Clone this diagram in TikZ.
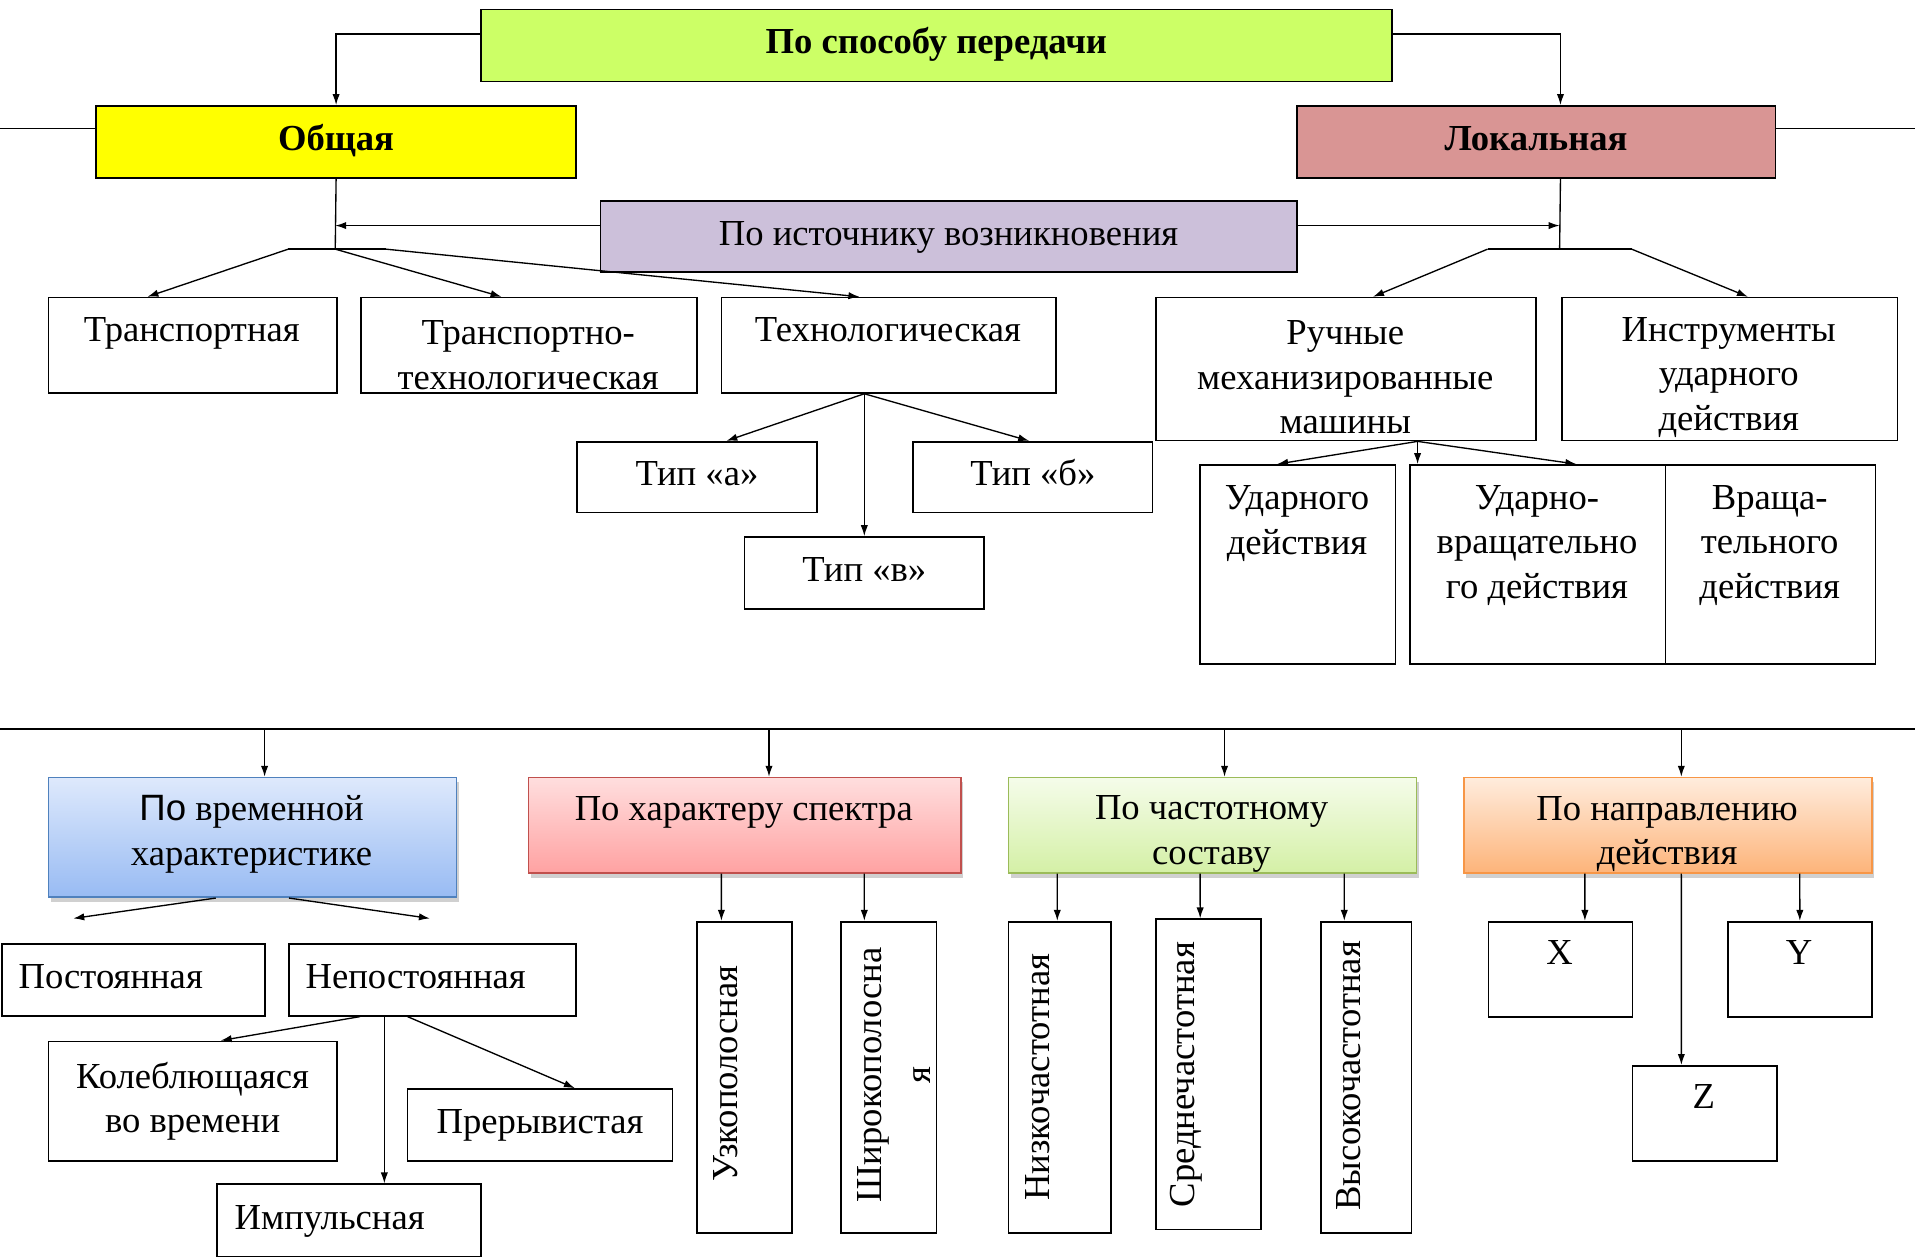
\documentclass[tikz,border=0pt]{standalone}
\usepackage{fontspec}
\setmainfont{Liberation Serif}
\newfontfamily\sansf{Liberation Sans}
\usetikzlibrary{arrows.meta,shadows}
\definecolor{cLime}{HTML}{CCFF66}
\definecolor{cYel}{HTML}{FFFF00}
\definecolor{cRose}{HTML}{D99594}
\definecolor{cLav}{HTML}{CCC0DA}
\definecolor{bTop}{HTML}{DEE9FC}
\definecolor{bBot}{HTML}{98BBF3}
\definecolor{bBrd}{HTML}{4F81BD}
\definecolor{rTop}{HTML}{FFDEDE}
\definecolor{rBot}{HTML}{FFA2A2}
\definecolor{rBrd}{HTML}{C0504D}
\definecolor{gTop}{HTML}{F5FCEA}
\definecolor{gBot}{HTML}{D4F0A6}
\definecolor{gBrd}{HTML}{9BBB59}
\definecolor{oTop}{HTML}{FFECDD}
\definecolor{oBot}{HTML}{FDB47A}
\definecolor{oBrd}{HTML}{F79646}
\tikzset{
  box/.style={draw, line width=1.4pt, inner sep=0pt, anchor=north west},
  cbox/.style={draw=#1, line width=1.3pt, inner sep=0pt, anchor=north west,
     drop shadow={shadow xshift=2pt, shadow yshift=-4pt, opacity=0.3, fill=black!60}},
  txt/.style={font=\fontsize{30}{36.5}\selectfont, inner sep=0pt, align=center},
  tt/.style={txt, yshift=-2.5pt},
  one/.style={text height=21pt, text depth=7pt},
  bold/.style={font=\fontsize{30}{36.5}\selectfont\bfseries},
  ln/.style={line width=1.1pt},
  arr/.style={line width=1.1pt, -{Latex[length=9pt,width=6pt]}}
}
\begin{document}
\begin{tikzpicture}[x=1pt,y=-1pt]
\fill[white] (0,0) rectangle (1568,1029);
\useasboundingbox (0,0) rectangle (1568,1029);

% ---------- top part ----------
\node[box, fill=cLime, minimum width=746pt, minimum height=59pt, bold, one] (sposob) at (393,7) {По способу передачи};
\node[box, fill=cYel, minimum width=393pt, minimum height=59pt, bold, one] (obsh) at (78,86) {Общая};
\node[box, fill=cRose, minimum width=392pt, minimum height=59pt, bold, one] (lok) at (1061,86) {Локальная};
\node[box, fill=cLav, minimum width=570pt, minimum height=58pt, txt, one] (ist) at (491,164) {По источнику возникновения};

\node[box, minimum width=236pt, minimum height=78pt] (transp) at (39,243) {};
\node[box, minimum width=275pt, minimum height=78pt] (ttech) at (295,243) {};
\node[box, minimum width=274pt, minimum height=78pt] (tech) at (590,243) {};
\node[box, minimum width=311pt, minimum height=117pt] (ruch) at (946,243) {};
\node[box, minimum width=275pt, minimum height=117pt] (instr) at (1278,243) {};

\node[tt, one] (transp-t) at (157,270) {Транспортная};
\node[tt] (ttech-t) at (432.5,288.5) {Транспортно-\\технологическая};
\node[tt, one] (tech-t) at (727,270) {Технологическая};
\node[tt] (ruch-t) at (1101.5,306.5) {Ручные\\механизированные\\машины};
\node[tt] (instr-t) at (1415.5,306.5) {Инструменты\\ударного\\действия};

\node[box, minimum width=196pt, minimum height=58pt, txt, one] (tipa) at (472,361) {Тип «а»};
\node[box, minimum width=196pt, minimum height=58pt, txt, one] (tipb) at (747,361) {Тип «б»};
\node[box, minimum width=196pt, minimum height=59pt, txt, one] (tipv) at (609,439) {Тип «в»};

\node[box, minimum width=160pt, minimum height=163pt] (udar) at (982,380) {};
\node[box, minimum width=209pt, minimum height=163pt] (udvr) at (1154,380) {};
\node[box, minimum width=172pt, minimum height=163pt] (vrash) at (1363,380) {};
\node[tt] (udar-t) at (1062,426) {Ударного\\действия};
\node[tt] (udvr-t) at (1258.5,444) {Ударно-\\вращательно\\го действия};
\node[tt] (vrash-t) at (1449,444) {Враща-\\тельного\\действия};

% top connectors
\draw[arr] ([yshift=9.5pt]sposob.west) -| (obsh.north);
\draw[arr] ([yshift=9.5pt]sposob.east) -| ([xshift=20pt]lok.north);
\coordinate (eL) at (0,105);
\coordinate (eR) at (1568,105);
\draw[ln] (eL) -- (eL -| obsh.west);
\draw[ln] (lok.east |- eR) -- (eR);

\coordinate (jL) at (274.5,204);
\coordinate (jLa) at (236,204);
\coordinate (jLb) at (316,204);
\coordinate (jR) at (1277,204);
\coordinate (jRa) at (1218,204);
\coordinate (jRb) at (1336,204);
\draw[ln] (obsh.south) -- (jL);
\draw[ln] (jLa) -- (jLb);
\draw[ln] ([xshift=20pt]lok.south) -- (jR);
\draw[ln] (jRa) -- (jRb);
\draw[arr] ([yshift=9pt]ist.west) -- ([yshift=9pt]ist.west -| jL);
\draw[arr] ([yshift=9pt]ist.east) -- ([yshift=9pt]ist.east -| jR);

\draw[arr] (jLa) -- ([xshift=-37pt]transp.north);
\draw[arr] (jL) -- ([xshift=-22.5pt]ttech.north);
\draw[arr] (jLb) -- ([xshift=-24pt]tech.north);
\draw[arr] (jRa) -- ([xshift=22pt]ruch.north);
\draw[arr] (jRb) -- ([xshift=15pt]instr.north);

\draw[arr] ([xshift=-20pt]tech.south) -- ([xshift=24pt]tipa.north);
\draw[arr] ([xshift=-20pt]tech.south) -- ([xshift=-3pt]tipb.north);
\draw[arr] ([xshift=-20pt]tech.south) -- (tipv.north);

\draw[arr] ([xshift=58.5pt]ruch.south) -- ([xshift=-17pt]udar.north);
\draw[arr] ([xshift=58.5pt]ruch.south) -- ([xshift=-98.5pt]udvr.north);
\draw[arr] ([xshift=58.5pt]ruch.south) -- ([xshift=31.5pt]udvr.north);

% ---------- bottom part ----------
\coordinate (busL) at (0,597);
\coordinate (busR) at (1568,597);
\draw[ln] (busL) -- (busR);

\node[cbox=bBrd, top color=bTop, bottom color=bBot, minimum width=334pt, minimum height=98pt] (vrem) at (39,636) {};
\node[cbox=rBrd, top color=rTop, bottom color=rBot, minimum width=354pt, minimum height=78pt] (spektr) at (432,636) {};
\node[cbox=gBrd, top color=gTop, bottom color=gBot, minimum width=334pt, minimum height=78pt] (chast) at (825,636) {};
\node[cbox=oBrd, top color=oTop, bottom color=oBot, minimum width=334pt, minimum height=78pt] (napr) at (1198,636) {};
\node[tt] (vrem-t) at (206,680.5) {{\sansf По} временной\\характеристике};
\node[tt, one] (spektr-t) at (609,662) {По характеру спектра};
\node[tt] (chast-t) at (992,680.5) {По частотному\\составу};
\node[tt] (napr-t) at (1365,680.5) {По направлению\\действия};

\draw[arr] ([xshift=10pt,yshift=39pt]vrem.north) -- ([xshift=10pt]vrem.north);
\draw[arr] ([xshift=20pt,yshift=39pt]spektr.north) -- ([xshift=20pt]spektr.north);
\draw[arr] ([xshift=10pt,yshift=39pt]chast.north) -- ([xshift=10pt]chast.north);
\draw[arr] ([xshift=11pt,yshift=39pt]napr.north) -- ([xshift=11pt]napr.north);

% time characteristic
\node[box, minimum width=215pt, minimum height=59pt] (post) at (1,772) {};
\node[box, minimum width=235pt, minimum height=59pt] (nepost) at (236,772) {};
\node[tt, one, anchor=west] (post-t) at (15,800) {Постоянная};
\node[tt, one, anchor=west] (nepost-t) at (250,800) {Непостоянная};
\node[box, minimum width=236pt, minimum height=98pt, txt] (koleb) at (39,852) {Колеблющаяся\\во времени};
\node[box, minimum width=217pt, minimum height=59pt, txt, one] (prer) at (333,891) {Прерывистая};
\node[box, minimum width=216pt, minimum height=59pt] (imp) at (177,969) {};
\node[tt, one, anchor=west] (imp-t) at (192,997) {Импульсная};

\coordinate (vremL) at (60,752);
\coordinate (vremR) at (352,752);
\draw[arr] ([xshift=-30pt]vrem.south) -- (vremL);
\draw[arr] ([xshift=30pt]vrem.south) -- (vremR);
\draw[arr] ([xshift=-59.5pt]nepost.south) -- ([xshift=23pt]koleb.north);
\draw[arr] ([xshift=-39.5pt]nepost.south) -- ([xshift=29pt]imp.north);
\draw[arr] ([xshift=-20.5pt]nepost.south) -- ([xshift=28.5pt]prer.north);

% spectrum
\node[box, minimum width=78pt, minimum height=255pt] (uzko) at (570,754) {};
\node[box, minimum width=78pt, minimum height=255pt] (shir) at (688,754) {};
\node[txt, one, rotate=90] (uzko-t) at (597,879) {Узкополосная};
\node[txt, rotate=90, font=\fontsize{30}{40}\selectfont] (shir-t) at (732,880) {Широкополосна\\я};
\draw[arr] ([xshift=-19pt]spektr.south) -- ([xshift=-19pt]uzko.north);
\draw[arr] ([xshift=98pt]spektr.south) -- ([xshift=-20pt]shir.north);

% frequency
\node[box, minimum width=84pt, minimum height=255pt] (nizk) at (825,754) {};
\node[box, minimum width=86pt, minimum height=254pt] (sred) at (946,752) {};
\node[box, minimum width=74pt, minimum height=255pt] (vys) at (1081,754) {};
\node[txt, one, rotate=90] (nizk-t) at (852,882) {Низкочастотная};
\node[txt, one, rotate=90] (sred-t) at (971,880) {Среднечастотная};
\node[txt, one, rotate=90] (vys-t) at (1107,881) {Высокочастотная};
\draw[arr] ([xshift=-127pt]chast.south) -- ([xshift=-2pt]nizk.north);
\draw[arr] ([xshift=-10pt]chast.south) -- ([xshift=-7pt]sred.north);
\draw[arr] ([xshift=108pt]chast.south) -- ([xshift=-18pt]vys.north);

% direction
\node[box, minimum width=118pt, minimum height=78pt] (bx) at (1218,754) {};
\node[box, minimum width=118pt, minimum height=78pt] (by) at (1414,754) {};
\node[box, minimum width=118pt, minimum height=78pt] (bz) at (1336,872) {};
\node[tt, one] (bx-t) at (1277,780) {X};
\node[tt, one] (by-t) at (1473,780) {Y};
\node[tt, one] (bz-t) at (1395,898) {Z};
\draw[arr] ([xshift=-68pt]napr.south) -- ([xshift=20pt]bx.north);
\draw[arr] ([xshift=11pt]napr.south) -- ([xshift=-19pt]bz.north);
\draw[arr] ([xshift=108pt]napr.south) -- (by.north);
\end{tikzpicture}
\end{document}
